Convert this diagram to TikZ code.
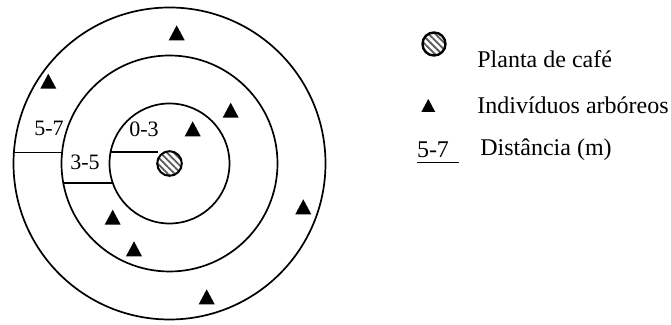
\documentclass[tikz,border=0pt]{standalone}
\usepackage{fontspec}
\setmainfont{Liberation Serif}
\usetikzlibrary{calc, positioning}
\usetikzlibrary{patterns.meta}

\tikzset{
  ring/.style={line width=0.85pt},
  cafe/.style={circle, draw, line width=1pt, inner sep=0pt, minimum size=12.3pt,
    pattern={Lines[angle=-45, distance=2.4pt, line width=0.9pt]}, pattern color=black!65},
  lbl/.style={font=\fontsize{11}{13}\selectfont, inner sep=0pt},
  leg/.style={font=\fontsize{12}{14}\selectfont, inner sep=0pt, anchor=west}
}

\begin{document}
\begin{tikzpicture}[x=0.5pt, y=0.5pt]
\def\RA{60}
\def\RB{108}
\def\RC{156}

\useasboundingbox (-169.5,-161.5) rectangle (501.5,163.5);

\coordinate (C) at (0,0);

% zones
\draw[ring] (C) circle (\RA);
\draw[ring] (C) circle (\RB);
\draw[ring] (C) circle (\RC);

\node[cafe] (plant) at (C) {};

% separators between the zones
\coordinate (s1) at ({-10*sqrt((\RC/10)^2-1.21)},11);
\coordinate (s2) at ({-10*sqrt((\RB/10)^2-1.21)},11);
\coordinate (s3) at ({-10*sqrt((\RB/10)^2-3.92)},-19.8);
\coordinate (s4) at ({-10*sqrt((\RA/10)^2-3.92)},-19.8);
\coordinate (s5) at ({-10*sqrt((\RA/10)^2-1.32)},11.5);
\coordinate (s6) at (-11.5,11.5);
\draw[ring] (s1) -- (s2);
\draw[ring] (s3) -- (s4);
\draw[ring] (s5) -- (s6);

\node[lbl] (d57) at (-120.5,35.5) {5-7};
\node[lbl] (d35) at (-84.5,1.5) {3-5};
\node[lbl] (d03) at (-25.5,34.5) {0-3};

% trees
\foreach \x/\y in {7.2/130.2, -121.2/81.8, 61.2/52.8, 23.2/34.2,
                   133.8/-43.8, -56.8/-54.2, -35.5/-85.8, 37.2/-133.8} {
  \fill (\x,\y) +(-8,-7) -- +(8,-7) -- +(0,8) -- cycle;
}

% legend
\node[cafe, minimum size=11.5pt, line width=1.2pt] (kcafe) at (264.5,119.5) {};
\node[leg] (tcafe) at (307.5,104.5) {Planta de café};

\fill (258.8,57.5) +(-7,-6) -- +(7,-6) -- +(0,7) -- cycle;
\node[leg] (ttree) at (307.5,58.5) {Indivíduos arbóreos};

\node[lbl, font=\fontsize{12}{14}\selectfont] (kdist) at (263.5,13.5) {5-7};
\coordinate (u1) at ([yshift=-2pt]kdist.south west);
\coordinate (u2) at ([xshift=5pt, yshift=-2pt]kdist.south east);
\draw[line width=0.6pt] (u1) -- (u2);
\node[leg] (tdist) at (310.5,13.5) {Distância (m)};
\end{tikzpicture}
\end{document}
